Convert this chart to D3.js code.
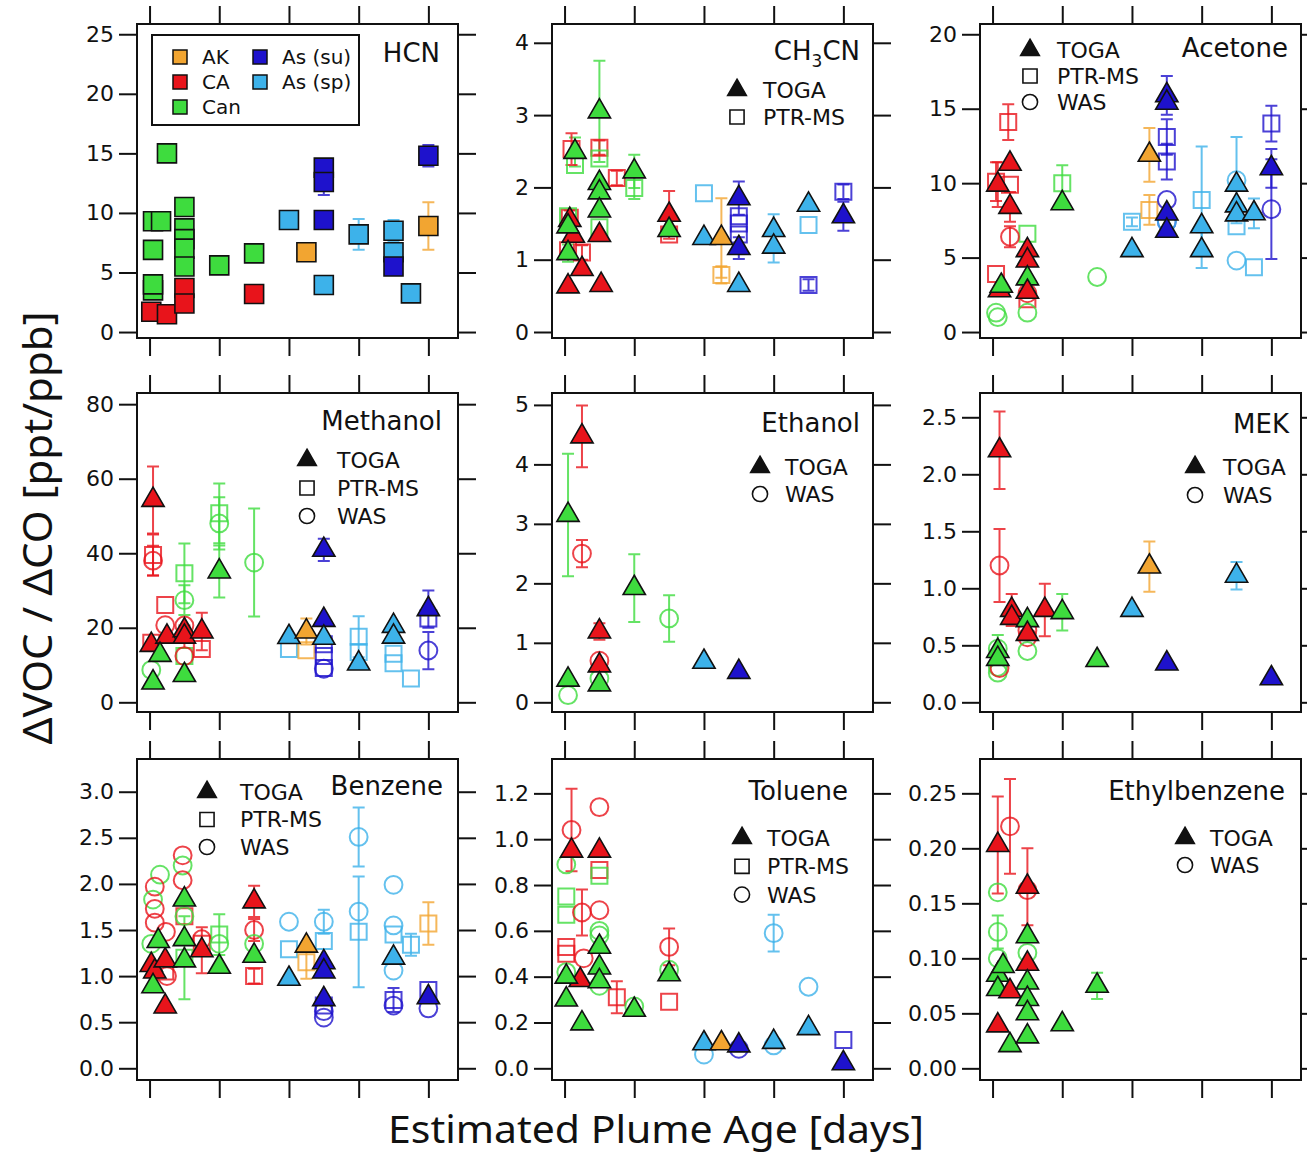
<!DOCTYPE html>
<html>
<head>
<meta charset="utf-8">
<script src="https://cdn.jsdelivr.net/npm/d3@7"></script>
<style>
  body { margin: 0; background: #fff; }
</style>
</head>
<body>
<div id="chart"></div>
<script>
// fire sources and their colours
const sources = ["AK", "CA", "Can", "su", "sp"];
const sourceLabels = ["AK", "CA", "Can", "As (su)", "As (sp)"];
const sourceColors = ["#F2A531", "#E8141B", "#3EDC3E", "#1E12CC", "#3DB2EA"];
const methodLabels = { T: "TOGA", P: "PTR-MS", W: "WAS" };
const ageTicks = [0, 2, 4, 6, 8];

// each row: [plume age (days), dVOC/dCO, source, method, error]
// methods: T = TOGA, P = PTR-MS, W = WAS, H = HCN (filled square)
const hcn = [
  [0.5, 15.0, "Can", "H"], [0.1, 9.3, "Can", "H"], [0.33, 9.3, "Can", "H"],
  [0.1, 6.9, "Can", "H"], [0.1, 3.5, "Can", "H"], [0.1, 4.0, "Can", "H"],
  [1.0, 10.5, "Can", "H"], [1.0, 8.7, "Can", "H"], [1.0, 7.8, "Can", "H"],
  [1.0, 7.0, "Can", "H"], [1.0, 5.5, "Can", "H"], [2.0, 5.6, "Can", "H"],
  [3.0, 6.6, "Can", "H"],
  [0.05, 1.7, "CA", "H"], [0.5, 1.5, "CA", "H"], [1.0, 3.7, "CA", "H"],
  [1.0, 2.4, "CA", "H"], [3.0, 3.2, "CA", "H"],
  [4.5, 6.7, "AK", "H"], [8.0, 8.9, "AK", "H", 2.0],
  [4.0, 9.4, "sp", "H"], [5.0, 3.95, "sp", "H"], [6.0, 8.2, "sp", "H", 1.3],
  [7.0, 8.5, "sp", "H", 0.9], [7.0, 6.7, "sp", "H"], [7.5, 3.25, "sp", "H"],
  [5.0, 13.8, "su", "H"], [5.0, 12.6, "su", "H", 1.1], [5.0, 9.4, "su", "H"],
  [7.0, 5.5, "su", "H"], [8.0, 14.8, "su", "H", 0.9]
];

const ch3cn = [
  [0.1, 0.63, "CA", "T"], [0.5, 0.87, "CA", "T"], [1.05, 0.65, "CA", "T"],
  [1.0, 1.34, "CA", "T"], [0.25, 1.33, "CA", "T"], [0.15, 1.55, "CA", "T"],
  [0.1, 1.46, "Can", "T"], [0.1, 1.09, "Can", "T", 0.12], [0.3, 2.49, "Can", "T", 0.2],
  [1.0, 3.05, "Can", "T", 0.7], [1.0, 2.06, "Can", "T"], [1.0, 1.93, "Can", "T"],
  [1.0, 1.68, "Can", "T"], [2.0, 2.22, "Can", "T", 0.23], [3.0, 1.62, "CA", "T", 0.33],
  [3.0, 1.41, "Can", "T"], [4.0, 1.3, "sp", "T"], [4.5, 1.3, "AK", "T", 0.55],
  [5.0, 1.85, "su", "T", 0.23], [5.0, 1.16, "su", "T", 0.15], [5.0, 0.65, "sp", "T"],
  [6.0, 1.41, "sp", "T", 0.22], [6.0, 1.18, "sp", "T", 0.22], [7.0, 1.76, "sp", "T"],
  [8.0, 1.6, "su", "T", 0.2],
  [0.2, 2.53, "CA", "P", 0.22], [0.3, 2.31, "Can", "P"], [0.15, 1.58, "CA", "P", 0.1],
  [0.1, 1.6, "Can", "P"], [0.1, 1.13, "CA", "P"], [0.5, 1.1, "CA", "P", 0.1],
  [1.0, 2.55, "CA", "P", 0.1], [1.0, 2.4, "Can", "P"], [1.0, 1.45, "Can", "P"],
  [1.5, 2.13, "CA", "P", 0.1], [2.0, 1.99, "Can", "P", 0.15], [3.0, 1.35, "CA", "P"],
  [4.0, 1.92, "sp", "P"], [4.5, 0.79, "AK", "P", 0.12], [5.0, 1.6, "su", "P"],
  [5.0, 1.5, "su", "P"], [5.0, 1.35, "su", "P"], [7.0, 1.48, "sp", "P"],
  [7.0, 0.65, "su", "P", 0.08], [8.0, 1.94, "su", "P", 0.1]
];

const acetone = [
  [0.5, 11.3, "CA", "T"], [0.15, 9.9, "CA", "T", 1.5], [0.5, 8.4, "CA", "T", 1.0],
  [0.2, 2.8, "CA", "T"], [0.25, 3.1, "Can", "T"], [1.0, 5.5, "CA", "T"],
  [1.0, 4.8, "CA", "T"], [1.0, 3.6, "Can", "T"], [1.0, 2.7, "CA", "T"],
  [2.0, 8.65, "Can", "T"], [4.0, 5.5, "sp", "T"], [4.5, 11.9, "AK", "T", 1.8],
  [5.0, 15.9, "su", "T", 1.3], [5.0, 15.4, "su", "T"], [5.0, 7.96, "su", "T"],
  [5.0, 6.8, "su", "T"], [6.0, 7.1, "sp", "T"], [6.0, 5.5, "sp", "T", 1.2],
  [7.0, 9.9, "sp", "T"], [7.0, 8.5, "sp", "T"], [7.0, 7.9, "sp", "T"],
  [7.5, 7.97, "sp", "T", 1.0], [8.0, 11.0, "su", "T", 1.3],
  [0.45, 14.1, "CA", "P", 1.2], [0.1, 10.1, "CA", "P", 1.3], [0.5, 9.9, "CA", "P"],
  [0.1, 3.9, "CA", "P"], [1.0, 6.6, "Can", "P"], [1.0, 2.2, "CA", "P"],
  [2.0, 10.0, "Can", "P", 1.2], [4.0, 7.4, "sp", "P", 0.3], [4.5, 8.2, "AK", "P", 1.0],
  [5.0, 13.1, "su", "P", 1.2], [5.0, 11.45, "su", "P", 1.2], [6.0, 8.87, "sp", "P", 3.6],
  [7.0, 7.1, "sp", "P"], [7.5, 4.35, "sp", "P"], [8.0, 14.0, "su", "P", 1.2],
  [0.5, 6.4, "CA", "W", 0.7], [0.1, 1.3, "Can", "W"], [0.15, 1.0, "Can", "W"],
  [1.0, 2.6, "CA", "W"], [1.0, 1.3, "Can", "W"], [3.0, 3.7, "Can", "W"],
  [5.0, 8.87, "su", "W"], [5.0, 7.4, "su", "W"], [5.0, 7.4, "sp", "W"],
  [7.0, 10.2, "sp", "W", 2.9], [7.0, 4.8, "sp", "W"], [8.0, 8.25, "su", "W", 3.35]
];

const methanol = [
  [0.1, 54.3, "CA", "T", 9], [0.05, 15.4, "CA", "T"], [0.5, 17.6, "CA", "T"],
  [0.3, 12.7, "Can", "T"], [0.1, 5.3, "Can", "T"], [1.0, 19.3, "CA", "T"],
  [1.0, 17.6, "CA", "T", 3], [1.0, 7.3, "Can", "T"], [1.5, 19.0, "CA", "T", 5],
  [2.0, 35.1, "Can", "T", 7], [4.0, 17.5, "sp", "T"], [4.5, 19.0, "AK", "T", 3.5],
  [5.0, 40.9, "su", "T", 3], [5.0, 22.1, "su", "T"], [5.0, 17.3, "sp", "T"],
  [6.0, 10.4, "sp", "T"], [7.0, 20.5, "sp", "T"], [7.0, 17.6, "sp", "T"],
  [8.0, 25.0, "su", "T", 5],
  [0.1, 39.5, "CA", "P", 5.5], [0.05, 16, "CA", "P"], [0.45, 26.1, "CA", "P"],
  [1.0, 34.6, "Can", "P", 8], [1.0, 12.4, "Can", "P"], [1.5, 14.3, "CA", "P"],
  [2.0, 50.7, "Can", "P", 8], [4.0, 14.3, "sp", "P"], [4.5, 14.0, "AK", "P"],
  [5.0, 15.6, "su", "P"], [5.0, 12.4, "su", "P"], [5.0, 9.2, "su", "P"],
  [6.0, 17.6, "sp", "P", 5.5], [6.0, 13.5, "sp", "P"], [7.0, 13.0, "sp", "P"],
  [7.0, 10.5, "sp", "P"], [7.5, 6.4, "sp", "P"], [8.0, 22.5, "su", "P"],
  [0.1, 38.0, "CA", "W", 4], [0.45, 20.7, "CA", "W"], [0.05, 8.7, "Can", "W"],
  [1.0, 27.4, "Can", "W", 4], [1.0, 20.6, "CA", "W"], [1.0, 12.4, "CA", "W"],
  [2.0, 48.0, "Can", "W", 7], [3.0, 37.5, "Can", "W", 14.5], [5.0, 9.0, "su", "W"],
  [8.0, 13.9, "su", "W", 5]
];

const ethanol = [
  [0.5, 4.47, "CA", "T", 0.52], [0.1, 3.15, "Can", "T", 1.03], [2.0, 1.92, "Can", "T", 0.57],
  [1.0, 1.19, "CA", "T", 0.14], [1.0, 0.62, "CA", "T"], [1.0, 0.3, "Can", "T"],
  [0.1, 0.38, "Can", "T"], [4.0, 0.68, "sp", "T"], [5.0, 0.51, "su", "T"],
  [0.5, 2.5, "CA", "W", 0.23], [3.0, 1.41, "Can", "W", 0.39], [1.0, 0.7, "CA", "W"],
  [1.0, 0.4, "Can", "W"], [0.1, 0.12, "Can", "W"]
];

const mek = [
  [0.2, 2.21, "CA", "T", 0.34], [0.55, 0.81, "CA", "T", 0.14], [0.55, 0.74, "CA", "T"],
  [1.5, 0.81, "CA", "T", 0.23], [2.0, 0.79, "Can", "T", 0.16], [1.0, 0.72, "Can", "T"],
  [1.0, 0.6, "CA", "T"], [0.15, 0.45, "Can", "T"], [0.15, 0.38, "Can", "T"],
  [3.0, 0.37, "Can", "T"], [4.0, 0.81, "sp", "T"], [4.5, 1.19, "AK", "T", 0.22],
  [5.0, 0.34, "su", "T"], [7.0, 1.11, "sp", "T", 0.12], [8.0, 0.21, "su", "T"],
  [0.2, 1.2, "CA", "W", 0.32], [1.0, 0.63, "CA", "W"], [1.0, 0.57, "CA", "W"],
  [1.0, 0.45, "Can", "W"], [0.15, 0.47, "Can", "W", 0.12], [0.15, 0.31, "Can", "W"],
  [0.15, 0.26, "Can", "W"], [0.2, 0.3, "CA", "W"]
];

const benzene = [
  [0.05, 1.12, "CA", "T"], [0.15, 1.05, "CA", "T"], [0.45, 1.17, "CA", "T"],
  [0.45, 0.67, "CA", "T"], [0.1, 0.89, "Can", "T"], [0.25, 1.38, "Can", "T"],
  [1.0, 1.83, "Can", "T"], [1.0, 1.4, "Can", "T"], [1.0, 1.17, "Can", "T"],
  [1.5, 1.28, "CA", "T", 0.25], [2.0, 1.1, "Can", "T"], [3.0, 1.81, "CA", "T", 0.17],
  [3.0, 1.22, "Can", "T"], [4.0, 0.97, "sp", "T"], [4.5, 1.33, "AK", "T"],
  [5.0, 1.15, "su", "T"], [5.0, 1.05, "su", "T"], [5.0, 0.75, "su", "T"],
  [7.0, 1.2, "sp", "T"], [8.0, 0.77, "su", "T"],
  [0.45, 1.05, "CA", "P"], [1.0, 1.65, "CA", "P"], [1.0, 1.2, "Can", "P", 0.45],
  [1.5, 1.35, "CA", "P"], [2.0, 1.45, "Can", "P", 0.22], [3.0, 1.0, "CA", "P", 0.08],
  [4.0, 1.29, "sp", "P"], [4.5, 1.15, "AK", "P", 0.18], [5.0, 1.38, "sp", "P"],
  [5.0, 0.68, "su", "P"], [6.0, 1.48, "sp", "P", 0.6], [7.0, 1.45, "sp", "P"],
  [7.0, 0.74, "su", "P", 0.13], [7.5, 1.34, "sp", "P", 0.12], [8.0, 1.57, "AK", "P", 0.23],
  [8.0, 0.85, "su", "P"],
  [0.95, 2.31, "CA", "W"], [0.95, 2.2, "Can", "W"], [0.95, 2.04, "CA", "W"],
  [0.3, 2.1, "Can", "W"], [0.15, 1.97, "CA", "W"], [0.1, 1.83, "Can", "W"],
  [0.15, 1.73, "CA", "W"], [0.15, 1.58, "CA", "W"], [0.47, 1.48, "CA", "W"],
  [0.05, 1.35, "Can", "W"], [0.5, 1.0, "CA", "W"], [1.0, 1.65, "Can", "W"],
  [1.5, 1.4, "CA", "W"], [2.0, 1.35, "Can", "W"], [3.0, 1.5, "CA", "W", 0.12],
  [3.0, 1.35, "Can", "W"], [4.0, 1.59, "sp", "W"], [5.0, 1.59, "sp", "W", 0.13],
  [5.0, 0.62, "su", "W"], [5.0, 0.55, "su", "W"], [6.0, 2.51, "sp", "W", 0.32],
  [6.0, 1.7, "sp", "W"], [7.0, 1.99, "sp", "W"], [7.0, 1.55, "sp", "W"],
  [7.0, 1.06, "sp", "W"], [7.0, 0.68, "su", "W"], [8.0, 0.65, "su", "W"]
];

const toluene = [
  [0.2, 0.95, "CA", "T"], [1.0, 0.95, "CA", "T"], [0.45, 0.385, "CA", "T"],
  [1.0, 0.53, "Can", "T"], [1.0, 0.44, "Can", "T"], [1.0, 0.38, "Can", "T"],
  [0.05, 0.4, "Can", "T"], [0.05, 0.3, "Can", "T"], [0.5, 0.196, "Can", "T"],
  [2.0, 0.255, "Can", "T"], [3.0, 0.41, "Can", "T"], [4.0, 0.109, "sp", "T"],
  [4.5, 0.109, "AK", "T"], [5.0, 0.1, "su", "T"], [6.0, 0.115, "sp", "T"],
  [7.0, 0.175, "sp", "T"], [8.0, 0.022, "su", "T"],
  [1.0, 0.865, "CA", "P"], [1.0, 0.84, "Can", "P"], [0.05, 0.75, "Can", "P"],
  [0.05, 0.67, "Can", "P"], [0.05, 0.53, "CA", "P"], [0.05, 0.5, "CA", "P"],
  [1.5, 0.31, "CA", "P", 0.07], [3.0, 0.29, "CA", "P"], [8.0, 0.124, "su", "P"],
  [0.2, 1.04, "CA", "W", 0.18], [1.0, 1.14, "CA", "W"], [0.05, 0.89, "Can", "W"],
  [0.5, 0.68, "CA", "W", 0.1], [1.0, 0.69, "CA", "W"], [1.0, 0.6, "Can", "W"],
  [1.0, 0.58, "Can", "W"], [0.55, 0.48, "CA", "W"], [0.05, 0.42, "Can", "W"],
  [1.0, 0.36, "Can", "W"], [2.0, 0.27, "Can", "W"], [3.0, 0.53, "CA", "W", 0.08],
  [3.0, 0.43, "Can", "W"], [4.0, 0.06, "sp", "W"], [5.0, 0.085, "su", "W"],
  [6.0, 0.59, "sp", "W", 0.08], [6.0, 0.1, "sp", "W"], [7.0, 0.356, "sp", "W"]
];

const ethylbenzene = [
  [0.15, 0.203, "CA", "T", 0.044], [1.0, 0.165, "CA", "T", 0.035], [0.15, 0.085, "Can", "T"],
  [0.15, 0.072, "Can", "T"], [0.3, 0.093, "Can", "T"], [0.5, 0.07, "CA", "T"],
  [0.15, 0.039, "CA", "T"], [0.5, 0.021, "Can", "T"], [1.0, 0.12, "Can", "T"],
  [1.0, 0.095, "CA", "T"], [1.0, 0.078, "Can", "T"], [1.0, 0.063, "Can", "T"],
  [1.0, 0.05, "Can", "T"], [1.0, 0.029, "Can", "T"], [2.0, 0.04, "Can", "T"],
  [3.0, 0.075, "Can", "T", 0.012],
  [0.5, 0.22, "CA", "W", 0.043], [1.0, 0.162, "CA", "W"], [0.15, 0.16, "Can", "W"],
  [0.15, 0.124, "Can", "W", 0.015], [0.15, 0.1, "Can", "W"], [1.0, 0.105, "Can", "W"]
];

// panel layout
const colX = [137, 552, 980];
const rowY = [24, 393, 759];
const rowH = [314, 319, 321];
const plotW = 321;

const panels = [
  { title: "HCN", data: hcn, col: 0, row: 0, domain: [-0.5, 25.86], ticks: [0, 5, 10, 15, 20, 25], fmt: "d", tx: 18, ty: 38, legend: null },
  { title: "CH3CN", data: ch3cn, col: 1, row: 0, domain: [-0.083, 4.26], ticks: [0, 1, 2, 3, 4], fmt: "d", tx: 13, ty: 36, legend: { items: ["T", "P"], x: 185, y: 66, dy: 27, dx: 26 } },
  { title: "Acetone", data: acetone, col: 2, row: 0, domain: [-0.4, 20.69], ticks: [0, 5, 10, 15, 20], fmt: "d", tx: 13, ty: 33, legend: { items: ["T", "P", "W"], x: 50, y: 26, dy: 26, dx: 27 } },
  { title: "Methanol", data: methanol, col: 0, row: 1, domain: [-2.6, 83.0], ticks: [0, 20, 40, 60, 80], fmt: "d", tx: 16, ty: 37, legend: { items: ["T", "P", "W"], x: 170, y: 67, dy: 28, dx: 30 } },
  { title: "Ethanol", data: ethanol, col: 1, row: 1, domain: [-0.163, 5.2], ticks: [0, 1, 2, 3, 4, 5], fmt: "d", tx: 13, ty: 39, legend: { items: ["T", "W"], x: 208, y: 74, dy: 27, dx: 25 } },
  { title: "MEK", data: mek, col: 2, row: 1, domain: [-0.085, 2.713], ticks: [0, 0.5, 1, 1.5, 2, 2.5], fmt: ".1f", tx: 12, ty: 40, legend: { items: ["T", "W"], x: 215, y: 74, dy: 28, dx: 28 } },
  { title: "Benzene", data: benzene, col: 0, row: 2, domain: [-0.127, 3.355], ticks: [0, 0.5, 1, 1.5, 2, 2.5, 3], fmt: ".1f", tx: 15, ty: 36, legend: { items: ["T", "P", "W"], x: 70, y: 33, dy: 27.5, dx: 33 } },
  { title: "Toluene", data: toluene, col: 1, row: 2, domain: [-0.051, 1.35], ticks: [0, 0.2, 0.4, 0.6, 0.8, 1.0, 1.2], fmt: ".1f", tx: 25, ty: 41, legend: { items: ["T", "P", "W"], x: 190, y: 79, dy: 28.3, dx: 25 } },
  { title: "Ethylbenzene", data: ethylbenzene, col: 2, row: 2, domain: [-0.0106, 0.2812], ticks: [0, 0.05, 0.1, 0.15, 0.2, 0.25], fmt: ".2f", tx: 16, ty: 41, legend: { items: ["T", "W"], x: 205, y: 79, dy: 27, dx: 25 } }
];

const colorOf = function (s) { return sourceColors[sources.indexOf(s)]; };

const svg = d3
  .select("#chart")
  .append("svg")
  .attr("width", 1307)
  .attr("height", 1157)
  .style("font-family", "'DejaVu Sans', sans-serif");

const x = d3.scaleLinear().domain([-0.36, 8.85]).range([0, plotW]);

function symbolPath(m, big) {
  if (m === "T") return d3.symbol(d3.symbolTriangle, big ? 215 : 150)();
  if (m === "W") return d3.symbol(d3.symbolCircle, big ? 250 : 180)();
  if (m === "H") return d3.symbol(d3.symbolSquare, big ? 361 : 200)();
  return d3.symbol(d3.symbolSquare, big ? 256 : 200)();
}

const drawOrder = { P: 0, W: 1, H: 1, T: 2 };

panels.forEach(function (p) {
  const h = rowH[p.row];
  const g = svg
    .append("g")
    .attr("transform", "translate(" + colX[p.col] + "," + rowY[p.row] + ")");

  const y = d3.scaleLinear().domain(p.domain).range([h, 0]);

  // axes with outside ticks on all four sides
  g.append("g")
    .call(d3.axisLeft(y).tickValues(p.ticks).tickSize(18).tickPadding(5).tickFormat(d3.format(p.fmt)))
    .attr("font-size", 22)
    .attr("font-family", "'DejaVu Sans', sans-serif");
  g.append("g")
    .attr("transform", "translate(" + plotW + ",0)")
    .call(d3.axisRight(y).tickValues(p.ticks).tickSize(18).tickFormat(""));
  g.append("g")
    .call(d3.axisTop(x).tickValues(ageTicks).tickSize(18).tickFormat(""));
  g.append("g")
    .attr("transform", "translate(0," + h + ")")
    .call(d3.axisBottom(x).tickValues(ageTicks).tickSize(18).tickFormat(""));

  g.selectAll(".domain").remove();
  g.selectAll(".tick line").attr("stroke", "#111").attr("stroke-width", 2);
  g.selectAll(".tick text").attr("fill", "#111");

  g.append("rect")
    .attr("width", plotW)
    .attr("height", h)
    .attr("fill", "none")
    .attr("stroke", "#111")
    .attr("stroke-width", 2);

  // error bars
  g.selectAll(".err")
    .data(p.data.filter(function (d) { return d[4] != null; }))
    .join("path")
    .attr("class", "err")
    .attr("d", function (d) {
      const cx = x(d[0]), lo = y(d[1] - d[4]), hi = y(d[1] + d[4]);
      return "M" + (cx - 6) + "," + hi + "H" + (cx + 6) +
        "M" + cx + "," + hi + "V" + lo +
        "M" + (cx - 6) + "," + lo + "H" + (cx + 6);
    })
    .attr("fill", "none")
    .attr("stroke", function (d) { return colorOf(d[2]); })
    .attr("stroke-width", 2)
    .attr("opacity", 0.8);

  // markers: open symbols first, TOGA triangles on top
  const pts = p.data.slice().sort(function (a, b) { return drawOrder[a[3]] - drawOrder[b[3]]; });
  g.selectAll(".pt")
    .data(pts)
    .join("path")
    .attr("class", "pt")
    .attr("transform", function (d) { return "translate(" + x(d[0]) + "," + y(d[1]) + ")"; })
    .attr("d", function (d) { return symbolPath(d[3], true); })
    .attr("fill", function (d) {
      return d[3] === "T" || d[3] === "H" ? colorOf(d[2]) : "none";
    })
    .attr("stroke", function (d) {
      return d[3] === "T" || d[3] === "H" ? "#111" : colorOf(d[2]);
    })
    .attr("stroke-width", function (d) { return d[3] === "T" || d[3] === "H" ? 1.6 : 2; })
    .attr("opacity", function (d) { return d[3] === "T" || d[3] === "H" ? 1 : 0.8; });

  // title
  const t = g.append("text")
    .attr("x", plotW - p.tx)
    .attr("y", p.ty)
    .attr("text-anchor", "end")
    .attr("font-size", 26)
    .attr("fill", "#111");
  if (p.title === "CH3CN") {
    t.append("tspan").text("CH");
    t.append("tspan").attr("font-size", 17).attr("dy", 7).text("3");
    t.append("tspan").attr("dy", -7).text("CN");
  } else {
    t.text(p.title);
  }

  // method legend
  if (p.legend) {
    const lg = g.selectAll(".lg")
      .data(p.legend.items)
      .join("g")
      .attr("transform", function (d, i) { return "translate(" + p.legend.x + "," + (p.legend.y + i * p.legend.dy) + ")"; });
    lg.append("path")
      .attr("d", function (d) { return symbolPath(d, false); })
      .attr("fill", function (d) { return d === "T" ? "#111" : "none"; })
      .attr("stroke", "#111")
      .attr("stroke-width", 1.6);
    lg.append("text")
      .attr("x", p.legend.dx)
      .attr("dy", "0.36em")
      .attr("font-size", 22)
      .attr("fill", "#111")
      .text(function (d) { return methodLabels[d]; });
  }
});

// source legend inside the HCN panel
const box = svg.append("g").attr("transform", "translate(152,35)");
box.append("rect")
  .attr("width", 207)
  .attr("height", 90)
  .attr("fill", "none")
  .attr("stroke", "#111")
  .attr("stroke-width", 2);
const legendPos = [[28, 22], [28, 47], [28, 72], [108, 22], [108, 47]];
const srcOrder = ["AK", "CA", "Can", "su", "sp"];
const entries = box.selectAll(".src")
  .data(srcOrder)
  .join("g")
  .attr("transform", function (d, i) { return "translate(" + legendPos[i][0] + "," + legendPos[i][1] + ")"; });
entries.append("path")
  .attr("d", d3.symbol(d3.symbolSquare, 196)())
  .attr("fill", function (d) { return colorOf(d); })
  .attr("stroke", "#111")
  .attr("stroke-width", 1.5);
entries.append("text")
  .attr("x", 22)
  .attr("dy", "0.36em")
  .attr("font-size", 20)
  .attr("fill", "#111")
  .text(function (d) { return sourceLabels[sources.indexOf(d)]; });

// axis titles
svg.append("text")
  .attr("transform", "translate(52,528) rotate(-90)")
  .attr("text-anchor", "middle")
  .attr("font-family", "'Noto Sans', sans-serif")
  .attr("font-size", 40)
  .attr("textLength", 433)
  .attr("lengthAdjust", "spacingAndGlyphs")
  .attr("fill", "#111")
  .text("ΔVOC / ΔCO [ppt/ppb]");

svg.append("text")
  .attr("x", 656)
  .attr("y", 1143)
  .attr("text-anchor", "middle")
  .attr("font-family", "'Noto Sans', sans-serif")
  .attr("font-size", 38)
  .attr("textLength", 536)
  .attr("lengthAdjust", "spacingAndGlyphs")
  .attr("fill", "#111")
  .text("Estimated Plume Age [days]");
</script>
</body>
</html>
